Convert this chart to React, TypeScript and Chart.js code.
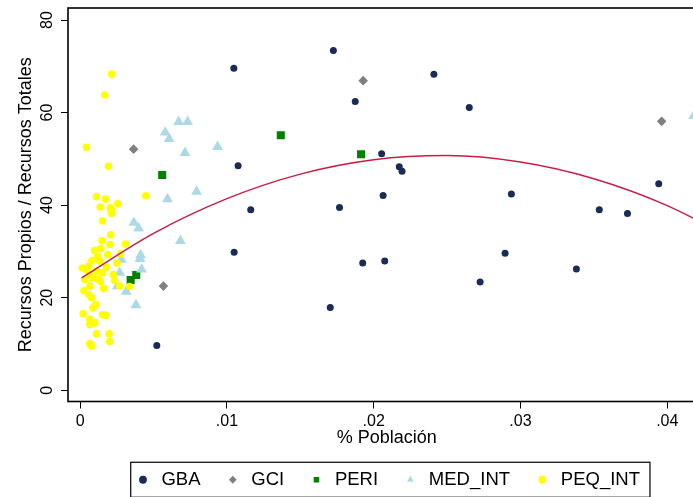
import { useEffect, useRef } from "react";
import { Chart, registerables, type Plugin } from "chart.js";

Chart.register(...registerables);

const FONT = "'Liberation Sans', Arial, sans-serif";

// GBA (círculos azul marino)
const gbaX = [0.01047, 0.01725, 0.0241, 0.01874, 0.02651, 0.02054, 0.02174, 0.02193, 0.01076, 0.01162, 0.01767, 0.02064, 0.02938, 0.03942, 0.03537, 0.03729, 0.01049, 0.01925, 0.02075, 0.02895, 0.03381, 0.02725, 0.01704, 0.00522];
const gbaY = [69.6, 73.4, 68.3, 62.4, 61.1, 51.1, 48.3, 47.3, 48.5, 39.0, 39.5, 42.1, 42.4, 44.6, 39.0, 38.2, 29.8, 27.5, 27.9, 29.6, 26.2, 23.4, 17.9, 9.65];

// GCI (rombos grises)
const gciX = [0.00364, 0.00567, 0.01928, 0.03962];
const gciY = [52.1, 22.5, 66.9, 58.1];

// PERI (cuadrados verdes)
const periX = [0.00344, 0.00382, 0.00559, 0.01367, 0.01914];
const periY = [23.8, 24.9, 46.5, 55.1, 51.0];

// MED_INT (triángulos celestes)
const medX = [0.00253, 0.00269, 0.00281, 0.00314, 0.0038, 0.00366, 0.00398, 0.00407, 0.00412, 0.00418, 0.00579, 0.00595, 0.00606, 0.00671, 0.00683, 0.00714, 0.00732, 0.00793, 0.00936, 0.04181];
const medY = [22.5, 25.4, 28.2, 21.3, 18.4, 36.2, 35.0, 28.4, 29.2, 26.1, 55.7, 41.3, 54.3, 58.0, 32.3, 51.3, 58.0, 42.9, 52.6, 59.3];

// PEQ_INT (círculos amarillos)
const peqX = [0.00215, 0.00167, 0.00043, 0.00193, 0.00447, 0.00111, 0.00172, 0.00256, 0.00136, 0.00205, 0.00217, 0.00213, 0.00152, 0.00208, 0.00149, 0.00203, 0.00308, 0.00098, 0.0012, 0.00188, 0.00274, 0.00134, 0.00014, 0.00059, 0.00251, 0.00224, 0.00152, 0.00111, 0.00066, 0.00032, 0.00138, 0.00235, 0.00269, 0.00335, 0.00066, 0.00025, 0.00059, 0.00077, 0.00106, 0.00088, 0.0002, 0.00152, 0.00174, 0.00066, 0.001, 0.00066, 0.00111, 0.00197, 0.00066, 0.00077, 0.00201, 0.00045, 0.0009, 0.0018, 0.0014, 0.0008, 0.0012, 0.0016];
const peqY = [68.3, 63.8, 52.5, 48.4, 42.0, 41.8, 41.3, 40.3, 39.6, 39.4, 38.9, 38.2, 36.6, 33.6, 32.3, 31.5, 31.6, 30.2, 28.9, 29.3, 29.5, 27.9, 26.4, 26.8, 27.5, 25.0, 25.4, 25.7, 25.0, 23.9, 23.5, 23.7, 22.5, 22.4, 22.5, 21.5, 20.7, 20.0, 18.5, 17.8, 16.5, 16.3, 16.2, 15.3, 14.6, 14.2, 12.2, 12.2, 10.1, 9.5, 10.5, 26.0, 24.2, 26.6, 30.6, 28.0, 24.0, 22.0];

// Ajuste cuadrático
const fitX = [0.0001, 0.005, 0.01, 0.015, 0.02, 0.025, 0.03, 0.035, 0.04, 0.045];
const fitY = [24.3, 33.9, 41.4, 46.7, 49.8, 50.7, 49.3, 45.7, 39.9, 31.8];

const xTicks = [0, 0.01, 0.02, 0.03, 0.04];
const xTickLabels = ["0", ".01", ".02", ".03", ".04"];
const yTicks = [0, 20, 40, 60, 80];
const yTickLabels = ["0", "20", "40", "60", "80"];

const toPoints = (xs: number[], ys: number[]) => xs.map((x, i) => ({ x, y: ys[i] }));

// marco del área de gráfico y recuadro de la leyenda
const framePlugin: Plugin = {
  id: "frame",
  afterDraw(chart) {
    const { ctx, chartArea: a } = chart;
    ctx.save();
    ctx.strokeStyle = "#000";
    ctx.lineWidth = 1.6;
    ctx.strokeRect(a.left, a.top, a.right - a.left, a.bottom - a.top);
    const hb = (chart.legend as any)?.legendHitBoxes;
    if (hb && hb.length) {
      const first = hb[0];
      const last = hb[hb.length - 1];
      const cy = first.top + first.height / 2;
      const left = first.left - 3;
      const right = last.left + last.width + 10;
      ctx.lineWidth = 1.2;
      ctx.strokeRect(left, cy - 17.5, right - left, 35);
    }
    ctx.restore();
  },
};

export default function App() {
  const chartRef = useRef<HTMLCanvasElement | null>(null);
  const chartInstance = useRef<Chart | null>(null);

  useEffect(() => {
    if (!chartRef.current) return;
    const ctx = chartRef.current.getContext("2d");
    if (!ctx) return;
    if (chartInstance.current) chartInstance.current.destroy();

    Chart.defaults.font.family = FONT;
    Chart.defaults.color = "#000";

    chartInstance.current = new Chart(ctx, {
      type: "scatter",
      data: {
        datasets: [
          { label: "GBA", data: toPoints(gbaX, gbaY), pointStyle: "circle", pointRadius: 3.5, backgroundColor: "#1a2b55", borderWidth: 0, order: 5 },
          { label: "GCI", data: toPoints(gciX, gciY), pointStyle: "rectRot", pointRadius: 4.8, backgroundColor: "#808080", borderWidth: 0, order: 4 },
          { label: "PERI", data: toPoints(periX, periY), pointStyle: "rect", pointRadius: 5.7, backgroundColor: "#008000", borderWidth: 0, order: 3 },
          { label: "MED_INT", data: toPoints(medX, medY), pointStyle: "triangle", pointRadius: 6.3, backgroundColor: "#add8e6", borderWidth: 0, order: 2 },
          { label: "PEQ_INT", data: toPoints(peqX, peqY), pointStyle: "circle", pointRadius: 3.8, backgroundColor: "#ffff00", borderWidth: 0, order: 1 },
          {
            label: "fit",
            data: toPoints(fitX, fitY),
            showLine: true,
            pointRadius: 0,
            borderColor: "#c81e46",
            borderWidth: 1.5,
            cubicInterpolationMode: "monotone",
            order: 0,
          },
        ],
      },
      options: {
        animation: false,
        responsive: false,
        layout: { padding: { top: 8, right: 3, bottom: -2, left: 0 } },
        plugins: {
          tooltip: { enabled: false },
          legend: {
            position: "bottom",
            fullSize: false,
            labels: {
              usePointStyle: true,
              boxWidth: 19,
              boxHeight: 5.5,
              padding: 23,
              color: "#000",
              font: { family: FONT, size: 18.5 },
              filter: (item) => item.text !== "fit",
              sort: (a, b) => (a.datasetIndex ?? 0) - (b.datasetIndex ?? 0),
            },
          },
        },
        scales: {
          x: {
            type: "linear",
            position: "bottom",
            min: -0.00083,
            max: 0.04262,
            afterBuildTicks: (s) => {
              s.ticks = xTicks.map((v) => ({ value: v }));
            },
            afterFit: (s: any) => {
              s.height = 46;
              s.paddingLeft = 0;
              s.paddingRight = 0;
            },
            ticks: {
              padding: 3,
              color: "#000",
              font: { family: FONT, size: 16 },
              maxRotation: 0,
              autoSkip: false,
              callback: (_v, i) => xTickLabels[i],
            },
            grid: { drawOnChartArea: false, tickLength: 7, color: "#000", lineWidth: 1 },
            border: { display: false },
            title: {
              display: true,
              text: "% Población",
              color: "#000",
              font: { family: FONT, size: 18, lineHeight: 1 },
              padding: { top: 0, bottom: 0 },
            },
          },
          y: {
            type: "linear",
            min: -2.44,
            max: 82.6,
            afterBuildTicks: (s) => {
              s.ticks = yTicks.map((v) => ({ value: v }));
            },
            afterFit: (s: any) => {
              s.width = 68;
              s.paddingTop = 0;
              s.paddingBottom = 0;
            },
            ticks: {
              minRotation: 90,
              maxRotation: 90,
              crossAlign: "center",
              padding: 5,
              color: "#000",
              font: { family: FONT, size: 16 },
              autoSkip: false,
              callback: (_v, i) => yTickLabels[i],
            },
            grid: { drawOnChartArea: false, tickLength: 7, color: "#000", lineWidth: 1 },
            border: { display: false },
            title: {
              display: true,
              text: "Recursos Propios / Recursos Totales",
              color: "#000",
              font: { family: FONT, size: 18, lineHeight: 1 },
              padding: { top: 17, bottom: 0 },
            },
          },
        },
      },
      plugins: [framePlugin],
    });

    return () => {
      chartInstance.current?.destroy();
      chartInstance.current = null;
    };
  }, []);

  return (
    <div style={{ position: "fixed", left: 0, top: 0, width: 693, height: 497, overflow: "hidden", background: "#fff" }}>
      <canvas ref={chartRef} width={712} height={497} style={{ display: "block" }}></canvas>
    </div>
  );
}
